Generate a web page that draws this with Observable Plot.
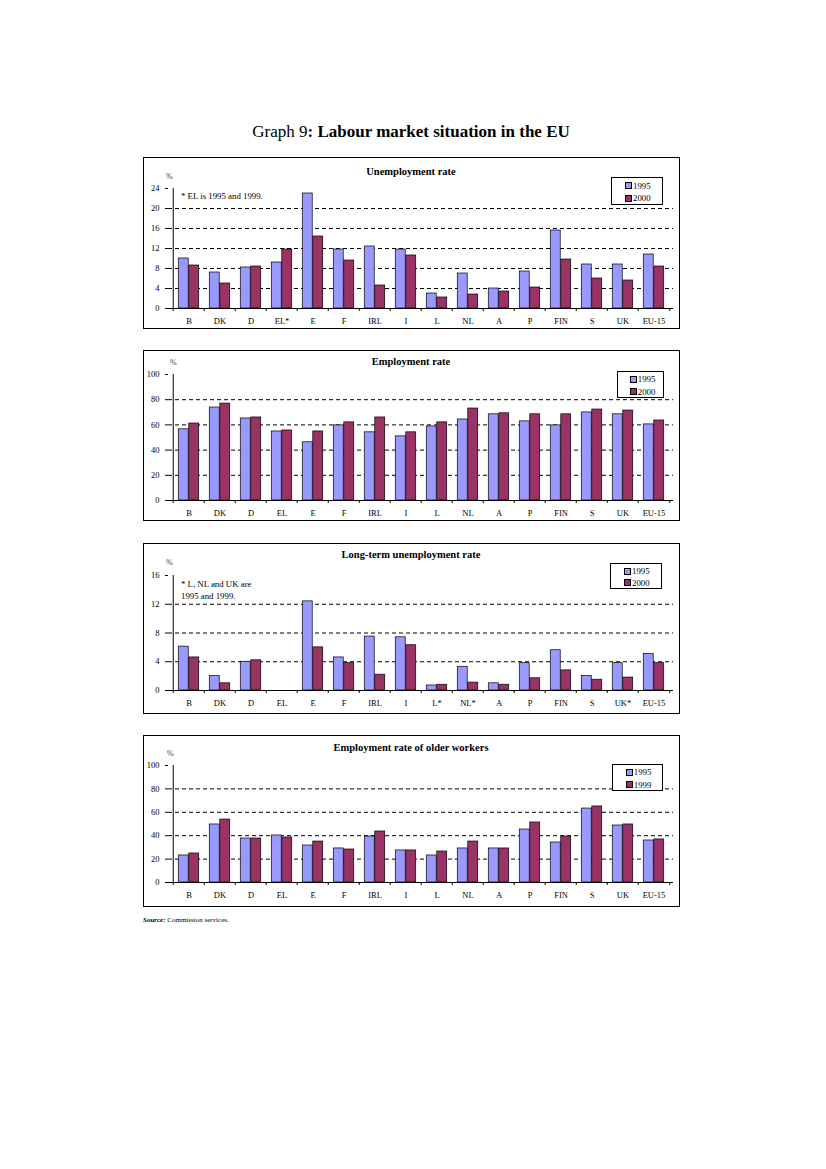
<!DOCTYPE html>
<html>
<head>
<meta charset="utf-8">
<script src="https://cdn.jsdelivr.net/npm/d3@7"></script>
<script src="https://cdn.jsdelivr.net/npm/@observablehq/plot@0.6"></script>
<style>
  html, body { margin: 0; padding: 0; background: #fff; }
  #page { position: relative; width: 826px; height: 1169px; font-family: "Liberation Serif", "DejaVu Serif", serif; color: #000; }
  .abs { position: absolute; }
  .box { position: absolute; border: 1px solid #000; box-sizing: border-box; }
  .ptitle { position: absolute; font-weight: bold; font-size: 10.5px; transform: translate(-50%, -50%); white-space: nowrap; }
  .small { position: absolute; font-size: 8.8px; white-space: nowrap; transform: translateY(-50%); }
  .legend { position: absolute; border: 1px solid #000; box-sizing: border-box; background: #fff; font-size: 8.8px; }
  .lrow { position: absolute; left: 13px; display: flex; align-items: center; transform: translateY(-50%); }
  .sw { width: 5px; height: 5px; border: 1px solid #000; margin-right: 1px; }
</style>
</head>
<body>
<div id="page"></div>
<script>
// ---------------- data ----------------
const years1 = ["1995", "2000"];
const years4 = ["1995", "1999"];
const colors = ["#9999ff", "#993366"];

const unempLabels = ["B","DK","D","EL*","E","F","IRL","I","L","NL","A","P","FIN","S","UK","EU-15"];
const unemp1995   = [10.0, 7.2, 8.2, 9.2, 23.0, 11.8, 12.4, 11.8, 3.0, 7.0, 4.0, 7.4, 15.6, 8.8, 8.8, 10.8];
const unemp2000   = [8.6, 5.0, 8.4, 11.8, 14.4, 9.6, 4.6, 10.6, 2.2, 2.8, 3.4, 4.2, 9.8, 6.0, 5.6, 8.4];
const unempTicks  = [0, 4, 8, 12, 16, 20, 24];

const emplLabels  = ["B","DK","D","EL","E","F","IRL","I","L","NL","A","P","FIN","S","UK","EU-15"];
const empl1995    = [56.5, 73.8, 65.1, 54.8, 46.2, 59.6, 54.1, 50.9, 58.8, 64.3, 68.4, 62.8, 59.6, 69.9, 68.4, 60.4];
const empl2000    = [61.1, 76.9, 65.9, 55.6, 54.8, 62.0, 65.9, 54.1, 62.0, 73.0, 69.2, 68.4, 68.4, 72.2, 71.4, 63.5];
const emplTicks   = [0, 20, 40, 60, 80, 100];

const ltLabels    = ["B","DK","D","EL","E","F","IRL","I","L*","NL*","A","P","FIN","S","UK*","EU-15"];
const lt1995      = [6.1, 2.0, 4.0, null, 12.4, 4.6, 7.5, 7.4, 0.7, 3.3, 1.0, 3.8, 5.6, 2.0, 3.8, 5.1];
const lt2000      = [4.6, 1.0, 4.2, null, 6.0, 3.8, 2.2, 6.3, 0.8, 1.1, 0.8, 1.7, 2.8, 1.5, 1.8, 3.8];
const ltTicks     = [0, 4, 8, 12, 16];

const olderLabels = ["B","DK","D","EL","E","F","IRL","I","L","NL","A","P","FIN","S","UK","EU-15"];
const older1995   = [23.1, 49.6, 37.6, 40.2, 31.6, 29.1, 39.3, 27.4, 23.1, 29.1, 29.1, 45.3, 34.2, 63.2, 48.7, 35.9];
const older1999   = [24.8, 53.8, 37.6, 38.5, 35.0, 28.2, 43.6, 27.4, 26.5, 35.0, 29.1, 51.3, 39.3, 65.0, 49.6, 36.8];
const olderTicks  = [0, 20, 40, 60, 80, 100];

// ---------------- layout ----------------
const page = document.getElementById("page");
function el(tag, cls, css, html) {
  const e = document.createElement(tag);
  if (cls) e.className = cls;
  Object.assign(e.style, css || {});
  if (html != null) e.innerHTML = html;
  page.appendChild(e);
  return e;
}

// main title
el("div", "abs", {left: "411px", top: "132px", transform: "translate(-50%,-50%)", fontSize: "17px", whiteSpace: "nowrap"},
   'Graph 9<b>: Labour market situation in the EU</b>');

const BOX_L = 143, BOX_W = 537, M_L = 25, M_R = 7;

function panel(cfg) {
  const labels = cfg.labels, n = labels.length;
  const bw = (BOX_W - M_L - M_R) / n;
  const barW = 10.5;
  const gap = (bw - 2 * barW) / 2;
  const yMax = cfg.ticks[cfg.ticks.length - 1];
  const plotH = cfg.h - cfg.mt - cfg.mb;
  const tickLen = yMax * 3 / plotH;
  const rowsA = labels.map((c, i) => ({c, v: cfg.a[i]})).filter(d => d.v != null);
  const rowsB = labels.map((c, i) => ({c, v: cfg.b[i]})).filter(d => d.v != null);
  const grid = cfg.ticks.filter(t => t > 0 && t < yMax);

  el("div", "box", {left: BOX_L + "px", top: cfg.top + "px", width: BOX_W + "px", height: cfg.h + "px"});

  const svg = Plot.plot({
    width: BOX_W,
    height: cfg.h,
    marginLeft: M_L, marginRight: M_R, marginTop: cfg.mt, marginBottom: cfg.mb,
    style: {fontFamily: '"Liberation Serif", serif', fontSize: "8.5px", background: "transparent", overflow: "visible", color: "#000"},
    x: {type: "band", domain: labels, padding: 0, tickSize: 0, tickPadding: 9, label: null},
    y: {domain: [0, yMax], ticks: cfg.ticks, tickSize: 3, tickPadding: 6, tickFormat: d => d, label: null},
    marks: [
      Plot.ruleY(grid, {stroke: "#000", strokeWidth: 1, strokeDasharray: "4,3"}),
      Plot.barY(rowsA, {x: "c", y: "v", fill: colors[0], stroke: "#000", strokeWidth: 0.7, insetLeft: gap, insetRight: gap + barW}),
      Plot.barY(rowsB, {x: "c", y: "v", fill: colors[1], stroke: "#000", strokeWidth: 0.7, insetLeft: gap + barW, insetRight: gap}),
      Plot.ruleY([0], {stroke: "#000", strokeWidth: 1}),
      Plot.ruleX([labels[0]], {stroke: "#000", strokeWidth: 1, dx: -bw / 2}),
      Plot.ruleX(labels, {x: d => d, y1: 0, y2: -tickLen, stroke: "#000", strokeWidth: 1, dx: -bw / 2}),
      Plot.ruleX([labels[n - 1]], {y1: 0, y2: -tickLen, stroke: "#000", strokeWidth: 1, dx: bw / 2})
    ]
  });
  svg.style.position = "absolute";
  svg.style.left = BOX_L + "px";
  svg.style.top = cfg.top + "px";
  page.appendChild(svg);

  el("div", "ptitle", {left: "411px", top: cfg.titleY + "px"}, cfg.title);
  el("div", "small", {left: cfg.pct[0] + "px", top: cfg.pct[1] + "px", color: "#444", fontSize: "8px"}, "%");
  (cfg.notes || []).forEach(nt => el("div", "small", {left: nt[0] + "px", top: nt[1] + "px"}, nt[2]));

  const lg = cfg.legend;
  const L = el("div", "legend", {left: lg[0] + "px", top: lg[1] + "px", width: lg[2] + "px", height: lg[3] + "px"});
  cfg.years.forEach((yr, i) => {
    const r = document.createElement("div");
    r.className = "lrow";
    r.style.top = (i === 0 ? lg[3] * 0.27 : lg[3] * 0.73) + "px";
    r.style.left = (lg[2] * 0.25) + "px";
    r.innerHTML = `<span class="sw" style="background:${colors[i]}"></span><span>${yr}</span>`;
    L.appendChild(r);
  });
}

panel({top: 157, h: 172, mt: 31, mb: 21, labels: unempLabels, a: unemp1995, b: unemp2000, ticks: unempTicks,
       title: "Unemployment rate", titleY: 171, pct: [166, 176], years: years1,
       legend: [611, 177, 52, 28], notes: [[181, 196, "* EL is 1995 and 1999."]]});
panel({top: 350, h: 171, mt: 24, mb: 21, labels: emplLabels, a: empl1995, b: empl2000, ticks: emplTicks,
       title: "Employment rate", titleY: 361, pct: [170, 362], years: years1,
       legend: [617, 371, 47, 27]});
panel({top: 543, h: 171, mt: 32, mb: 24, labels: ltLabels, a: lt1995, b: lt2000, ticks: ltTicks,
       title: "Long-term unemployment rate", titleY: 554, pct: [166, 562], years: years1,
       legend: [610, 563, 52, 26], notes: [[181, 584, "* L, NL and UK are"], [181, 596, "1995 and 1999."]]});
panel({top: 735, h: 172, mt: 30, mb: 25, labels: olderLabels, a: older1995, b: older1999, ticks: olderTicks,
       title: "Employment rate of older workers", titleY: 747, pct: [167, 753], years: years4,
       legend: [612, 764, 51, 27]});

el("div", "abs", {left: "143px", top: "916px", fontSize: "7px", whiteSpace: "nowrap"},
   '<b><i>Source:</i></b> Commission services.');
</script>
</body>
</html>
